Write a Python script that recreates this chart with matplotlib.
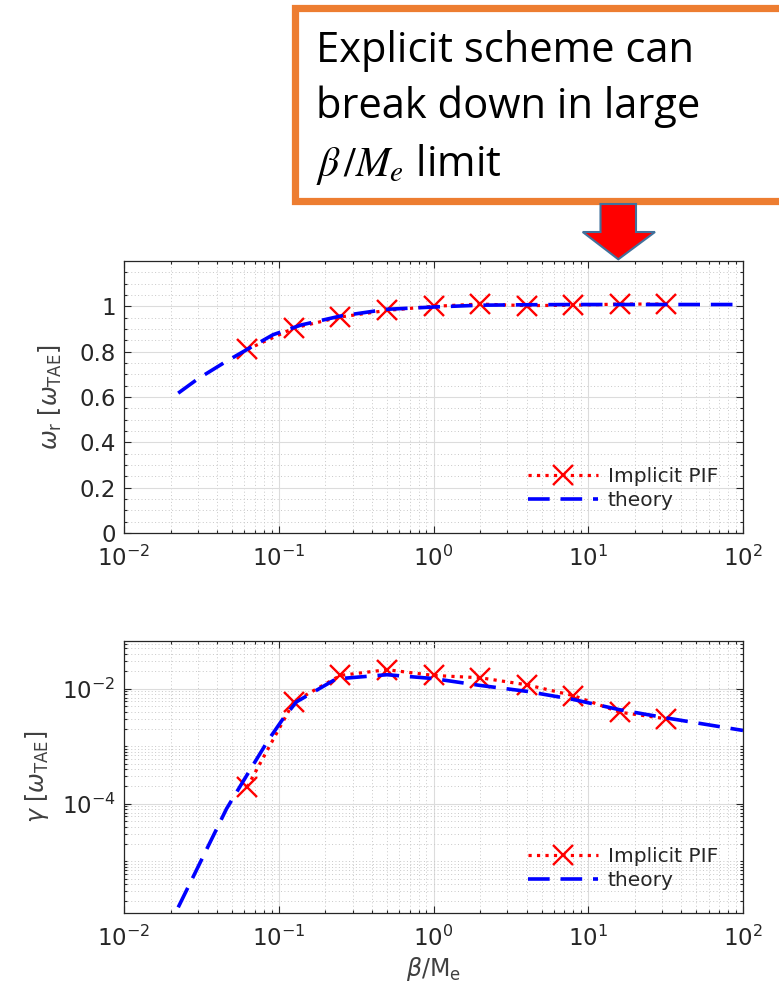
import numpy as np
import matplotlib
matplotlib.use("Agg")
import matplotlib.pyplot as plt
from matplotlib.patches import Rectangle, Polygon
from matplotlib.ticker import FixedLocator, NullFormatter, LogFormatterSciNotation

plt.rcParams['mathtext.fontset'] = 'dejavusans'

# ---------------- data ----------------
pif_x = [0.0625, 0.125, 0.25, 0.5, 1, 2, 4, 8, 16, 32]
pif_wr = [0.81, 0.904, 0.953, 0.982, 1.0, 1.01, 1.003, 1.005, 1.01, 1.01]
pif_gamma = [1.95e-4, 5.9e-3, 1.7e-2, 2.14e-2, 1.7e-2, 1.55e-2, 1.17e-2, 7.6e-3, 3.9e-3, 3.0e-3]

th_wr_x = [0.0224, 0.03, 0.045, 0.0625, 0.092, 0.112, 0.14, 0.25, 0.5, 1, 2, 4, 8, 16, 32, 100]
th_wr = [0.617, 0.68, 0.754, 0.81, 0.875, 0.895, 0.918, 0.957, 0.987, 0.997, 1.005, 1.007, 1.008, 1.008, 1.008, 1.008]

th_g_x = [0.0224, 0.046, 0.065, 0.0853, 0.1066, 0.13, 0.235, 0.5, 1, 2, 4, 8, 16, 32, 100]
th_gamma = [1.58e-6, 8.2e-5, 3.8e-4, 1.26e-3, 3.0e-3, 5.9e-3, 1.48e-2, 1.75e-2, 1.5e-2, 1.14e-2, 9.0e-3, 6.5e-3, 4.3e-3, 3.1e-3, 1.88e-3]

legend_labels = ["Implicit PIF", "theory"]
xlim = (1e-2, 1e2)
wr_ylim = (0, 1.2)
wr_ticks = [0, 0.2, 0.4, 0.6, 0.8, 1]
wr_ticklabels = ['0', '0.2', '0.4', '0.6', '0.8', '1']
g_ylim = (1.26e-6, 0.0675)
g_ticks = [1e-4, 1e-2]
xticks = [1e-2, 1e-1, 1e0, 1e1, 1e2]

# ---------------- figure ----------------
W, H = 779, 996
fig = plt.figure(figsize=(W / 100, H / 100), dpi=100)

def fx(px):
    return px / W

def fy(py):
    return 1 - py / H

AX_L, AX_R = 124, 743
ax1 = fig.add_axes([fx(AX_L), fy(533), fx(AX_R - AX_L), (533 - 261) / H])
ax2 = fig.add_axes([fx(AX_L), fy(913), fx(AX_R - AX_L), (913 - 641) / H])

dark = '#262626'
labc = '#404040'
tickfs = 16.5
pif_style = dict(color='red', linestyle=':', linewidth=2.3, marker='x',
                 markersize=14, markeredgewidth=1.7)
th_style = dict(color='blue', linestyle=(0, (6, 3)), linewidth=2.6)

def style(ax):
    ax.set_xscale('log')
    ax.set_xlim(*xlim)
    ax.set_xticks(xticks)
    minors = [m * 10.0 ** e for e in range(-2, 2) for m in range(2, 10)]
    ax.xaxis.set_minor_locator(FixedLocator(minors))
    ax.xaxis.set_minor_formatter(NullFormatter())
    ax.tick_params(which='both', direction='in', top=True, right=True, colors=dark,
                   labelsize=tickfs, width=0.8)
    ax.tick_params(which='major', length=5)
    ax.tick_params(which='minor', length=2.5)
    ax.tick_params(axis='x', pad=9)
    ax.tick_params(axis='y', pad=6)
    for s in ax.spines.values():
        s.set_color(dark)
        s.set_linewidth(0.9)
    ax.grid(True, which='major', color='#dcdcdc', linewidth=0.8, linestyle='-')
    ax.grid(True, which='minor', color='#c8c8c8', linewidth=0.7, linestyle=(0, (1, 2.5)))
    ax.set_axisbelow(True)

style(ax1)
style(ax2)

# top panel
ax1.plot(pif_x, pif_wr, label=legend_labels[0], **pif_style)
ax1.plot(th_wr_x, th_wr, label=legend_labels[1], **th_style)
ax1.set_ylim(*wr_ylim)
ax1.set_yticks(wr_ticks)
ax1.set_yticklabels(wr_ticklabels)
ax1.yaxis.set_minor_locator(FixedLocator(np.arange(0.05, 1.2, 0.05)))
ax1.set_ylabel(r'$\omega_{\rm r}$ [$\omega_{\rm TAE}$]', fontsize=17, color=labc)
ax1.yaxis.set_label_coords((64 - AX_L) / (AX_R - AX_L), 0.5)

# bottom panel
ax2.set_yscale('log')
ax2.plot(pif_x, pif_gamma, label=legend_labels[0], **pif_style)
ax2.plot(th_g_x, th_gamma, label=legend_labels[1], **th_style)
ax2.set_ylim(*g_ylim)
ax2.yaxis.set_major_locator(FixedLocator(g_ticks))
ax2.yaxis.set_major_formatter(LogFormatterSciNotation())
yminors = [m * 10.0 ** e for e in range(-7, 0) for m in range(1, 10)
           if not any(np.isclose(m * 10.0 ** e, t) for t in g_ticks)]
ax2.yaxis.set_minor_locator(FixedLocator(yminors))
ax2.yaxis.set_minor_formatter(NullFormatter())
ax2.set_ylabel(r'$\gamma$ [$\omega_{\rm TAE}$]', fontsize=17, color=labc)
ax2.yaxis.set_label_coords((51 - AX_L) / (AX_R - AX_L), 0.5)
ax2.set_xlabel(r'$\beta$/M$_{\rm e}$', fontsize=17, color=labc, labelpad=3)

for ax in (ax1, ax2):
    leg = ax.legend(loc='center left', bbox_to_anchor=((528 - AX_L) / (AX_R - AX_L), 0.164),
                    frameon=False, fontsize=14.5, handlelength=3.5, handletextpad=0.45,
                    labelspacing=0.25, borderpad=0, borderaxespad=0)
    for t in leg.get_texts():
        t.set_color(dark)

# ---------------- annotation box ----------------
box = Rectangle((fx(295), fy(200.5)), fx(820 - 295), (200.5 - 7.5) / H, transform=fig.transFigure,
                facecolor='white', edgecolor='#ED7D31', linewidth=5.2, clip_on=False)
fig.patches.append(box)
fig.text(fx(316), fy(62), 'Explicit scheme can', fontsize=30, family='Open Sans',
         ha='left', va='baseline', color='black')
fig.text(fx(316), fy(118), 'break down in large', fontsize=30, family='Open Sans',
         ha='left', va='baseline', color='black')
fig.text(fx(316), fy(176), r'$\beta\,/M_e$ limit', fontsize=30, family='Open Sans',
         ha='left', va='baseline', color='black', math_fontfamily='stix')

arrow_pts = [(600.5, 204), (636, 204), (636, 232), (655, 232), (618.3, 259.3), (582.7, 232), (600.5, 232)]
arrow = Polygon([(fx(x), fy(y)) for x, y in arrow_pts], closed=True, transform=fig.transFigure,
                facecolor='#FF0000', edgecolor='#41719C', linewidth=1.5, clip_on=False)
fig.patches.append(arrow)

fig.savefig('out.png', dpi=100)
